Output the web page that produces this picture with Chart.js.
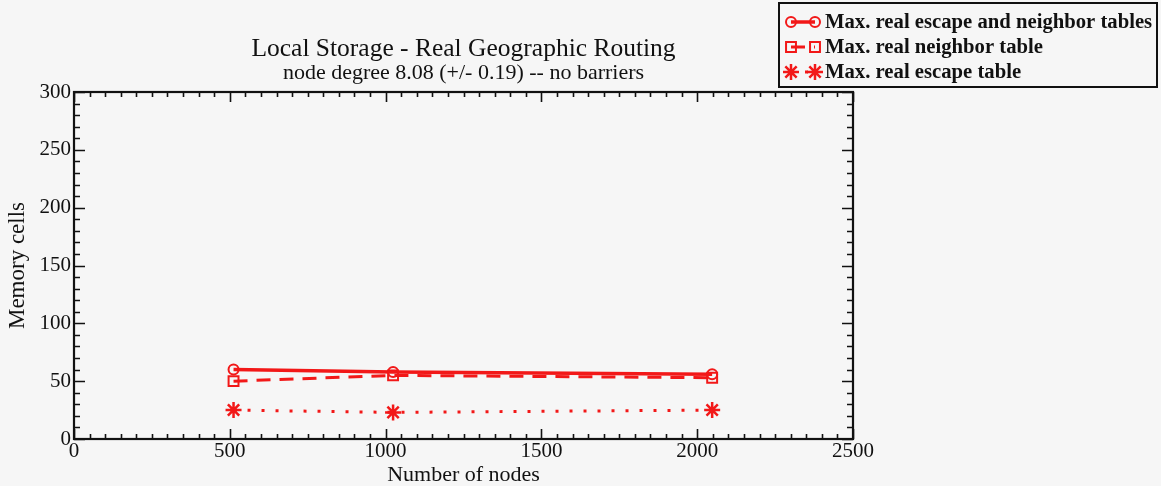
<!DOCTYPE html>
<html>
<head>
<meta charset="utf-8">
<script src="https://cdn.jsdelivr.net/npm/chart.js@4.4.1/dist/chart.umd.min.js"></script>
<style>
  html, body { margin: 0; padding: 0; background: #f6f6f6; }
  #wrap { width: 1161px; height: 486px; position: relative; }
</style>
</head>
<body>
<div id="wrap"><canvas id="c" width="1161" height="486"></canvas></div>
<script>
// Network sizes simulated
const nodeCounts = [512, 1024, 2048];
// Maximum memory cells per node
const escapeAndNeighbor = [60, 58, 56];
const neighborTable = [50, 55, 53];
const escapeTable = [25, 23, 25];

const seriesLabels = [
  'Max. real escape and neighbor tables',
  'Max. real neighbor table',
  'Max. real escape table'
];

const xTicks = [0, 500, 1000, 1500, 2000, 2500];
const yTicks = [0, 50, 100, 150, 200, 250, 300];

const RED = '#f21818';
const SERIF = '"Liberation Serif", "DejaVu Serif", serif';

function pts(values) {
  return nodeCounts.map((n, i) => ({ x: n, y: values[i] }));
}

// Frame with inward major/minor ticks on all four sides
const framePlugin = {
  id: 'frame',
  afterDatasetsDraw(chart) {
    const { ctx, chartArea: a, scales: { x, y } } = chart;
    ctx.save();
    ctx.strokeStyle = '#111';
    ctx.lineWidth = 1.6;
    ctx.beginPath();
    for (let v = 0; v <= 2500; v += 50) {
      const px = Math.round(x.getPixelForValue(v)) + 0.5;
      const len = v % 500 === 0 ? 10 : 5;
      ctx.moveTo(px, a.bottom); ctx.lineTo(px, a.bottom - len);
      ctx.moveTo(px, a.top); ctx.lineTo(px, a.top + len);
    }
    for (let v = 0; v <= 300; v += 10) {
      const py = Math.round(y.getPixelForValue(v)) + 0.5;
      const len = v % 50 === 0 ? 11 : 6;
      ctx.moveTo(a.left, py); ctx.lineTo(a.left + len, py);
      ctx.moveTo(a.right, py); ctx.lineTo(a.right - len, py);
    }
    ctx.stroke();
    ctx.lineWidth = 2.2;
    ctx.strokeRect(a.left, a.top, a.right - a.left, a.bottom - a.top);
    ctx.restore();
  }
};

// Boxed legend at the top right, each sample a line with a marker at both ends
const boxLegendPlugin = {
  id: 'boxLegend',
  afterDraw(chart) {
    const { ctx } = chart;
    const box = { l: 779, t: 3, r: 1157, b: 87 };
    ctx.save();
    ctx.strokeStyle = '#111';
    ctx.lineWidth = 2;
    ctx.strokeRect(box.l, box.t, box.r - box.l, box.b - box.t);
    chart.data.datasets.forEach((ds, i) => {
      const cy = 22 + i * 25;
      const x0 = 791, x1 = 815;
      ctx.save();
      ctx.strokeStyle = ds.borderColor;
      ctx.lineWidth = ds.borderWidth;
      ctx.setLineDash(ds.borderDash || []);
      ctx.beginPath();
      ctx.moveTo(x0, cy); ctx.lineTo(x1, cy);
      ctx.stroke();
      ctx.setLineDash([]);
      const opts = {
        pointStyle: ds.pointStyle,
        radius: ds.pointRadius,
        borderWidth: ds.pointBorderWidth
      };
      ctx.fillStyle = ds.pointBackgroundColor;
      ctx.strokeStyle = ds.borderColor;
      ctx.lineWidth = ds.pointBorderWidth;
      Chart.helpers.drawPoint(ctx, opts, x0, cy);
      Chart.helpers.drawPoint(ctx, opts, x1, cy);
      ctx.restore();
      ctx.fillStyle = '#111';
      ctx.font = 'bold 20.7px ' + SERIF;
      ctx.textBaseline = 'middle';
      ctx.textAlign = 'left';
      ctx.fillText(ds.label, 825, cy + 1);
    });
    ctx.restore();
  }
};

new Chart(document.getElementById('c'), {
  type: 'line',
  data: {
    datasets: [
      {
        label: seriesLabels[0],
        data: pts(escapeAndNeighbor),
        borderColor: RED, backgroundColor: 'transparent',
        borderWidth: 3.5,
        pointStyle: 'circle', pointRadius: 5, pointBorderWidth: 2,
        pointBackgroundColor: 'transparent', pointBorderColor: RED
      },
      {
        label: seriesLabels[1],
        data: pts(neighborTable),
        borderColor: RED, backgroundColor: 'transparent',
        borderWidth: 3, borderDash: [14, 9],
        pointStyle: 'rect', pointRadius: 7, pointBorderWidth: 2,
        pointBackgroundColor: 'transparent', pointBorderColor: RED
      },
      {
        label: seriesLabels[2],
        data: pts(escapeTable),
        borderColor: RED, backgroundColor: 'transparent',
        borderWidth: 3, borderDash: [3, 11],
        pointStyle: 'star', pointRadius: 8, pointBorderWidth: 2.5,
        pointBackgroundColor: RED, pointBorderColor: RED
      }
    ]
  },
  options: {
    responsive: false,
    animation: false,
    layout: { padding: { left: 0, top: 0, right: 308, bottom: 0 } },
    plugins: {
      legend: { display: false },
      tooltip: { enabled: false },
      title: {
        display: true,
        text: 'Local Storage - Real Geographic Routing',
        color: '#111',
        fullSize: false,
        font: { family: SERIF, size: 25.5, weight: 'normal', lineHeight: 1.0 },
        padding: { top: 36.5, bottom: 0 }
      },
      subtitle: {
        display: true,
        text: 'node degree 8.08 (+/- 0.19) -- no barriers',
        color: '#111',
        fullSize: false,
        font: { family: SERIF, size: 22, lineHeight: 1.0 },
        padding: { top: 0, bottom: 8 }
      }
    },
    scales: {
      x: {
        type: 'linear',
        min: 0, max: 2500,
        afterBuildTicks: s => { s.ticks = xTicks.map(v => ({ value: v })); },
        afterFit: s => { s.height = 47; },
        grid: { display: false, drawTicks: false },
        border: { display: false },
        ticks: {
          color: '#111', padding: 2,
          font: { family: SERIF, size: 21, lineHeight: 1.0 },
          maxRotation: 0, autoSkip: false,
          callback: v => String(v)
        },
        title: {
          display: true, text: 'Number of nodes', color: '#111',
          font: { family: SERIF, size: 22, lineHeight: 1.0 },
          padding: { top: 0, bottom: 0 }
        }
      },
      y: {
        type: 'linear',
        min: 0, max: 300,
        afterBuildTicks: s => { s.ticks = yTicks.map(v => ({ value: v })); },
        afterFit: s => { s.width = 74; },
        grid: { display: false, drawTicks: false },
        border: { display: false },
        ticks: {
          color: '#111', padding: 3,
          font: { family: SERIF, size: 21, lineHeight: 1.0 },
          callback: v => String(v)
        },
        title: {
          display: true, text: 'Memory cells', color: '#111',
          font: { family: SERIF, size: 23, lineHeight: 1.0 },
          padding: { top: 6, bottom: 0 }
        }
      }
    }
  },
  plugins: [framePlugin, boxLegendPlugin]
});
</script>
</body>
</html>
